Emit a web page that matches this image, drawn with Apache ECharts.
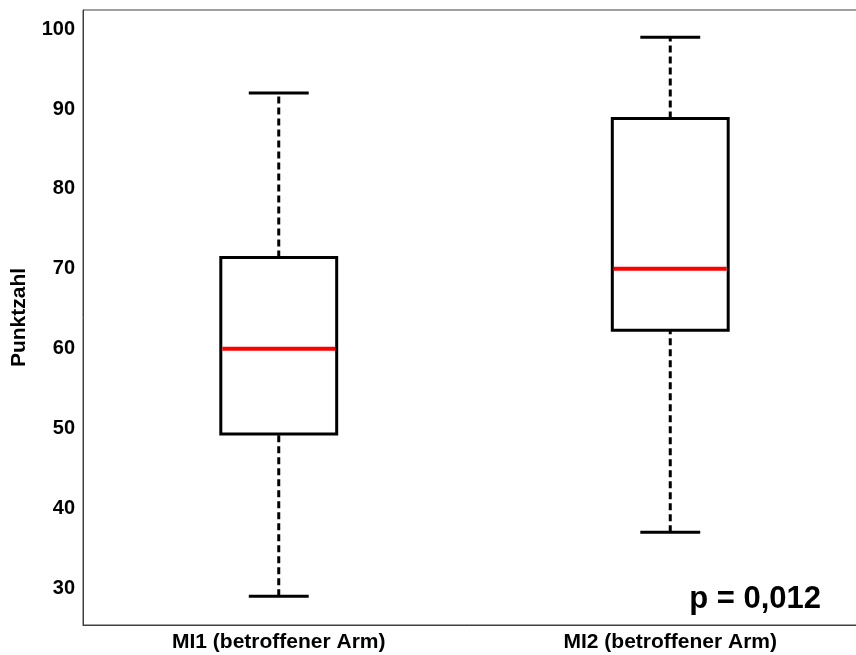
<!DOCTYPE html>
<html>
<head>
<meta charset="utf-8">
<style>html,body{margin:0;padding:0;background:#fff;}#chart{width:856px;height:655px;}</style>
<script src="https://cdn.jsdelivr.net/npm/echarts@6/dist/echarts.min.js"></script>
</head>
<body>
<div id="chart"></div>
<script>
var categories = ['MI1 (betroffener Arm)', 'MI2 (betroffener Arm)'];
var lowWhisker = [29, 37];
var q1 = [49.3, 62.3];
var median = [60, 70];
var q3 = [71.4, 88.8];
var highWhisker = [92, 99];
var pText = 'p = 0,012';

var boxData = categories.map(function (c, i) {
  return [i, lowWhisker[i], q1[i], median[i], q3[i], highWhisker[i]];
});

var FONT = "'Liberation Sans', Arial, Helvetica, sans-serif";
var chart = echarts.init(document.getElementById('chart'));
chart.setOption({
  animation: false,
  backgroundColor: '#fff',
  grid: { left: 83, width: 783, top: 10, height: 615, outerBoundsMode: 'none', containLabel: false, show: true, borderColor: '#404040', borderWidth: 1 },
  xAxis: {
    type: 'category',
    data: categories,
    boundaryGap: true,
    axisLine: { lineStyle: { color: '#404040', width: 1 } },
    axisTick: { inside: true, length: 6, alignWithLabel: true, lineStyle: { color: '#404040' } },
    axisLabel: { margin: 7, color: '#000', fontSize: 21, fontWeight: 'bold', fontFamily: FONT },
    splitLine: { show: false }
  },
  yAxis: {
    type: 'value',
    min: 25.4,
    max: 102.4,
    splitNumber: 8,
    name: 'Punktzahl',
    nameLocation: 'middle',
    nameRotate: 90,
    nameGap: 53,
    nameTextStyle: { color: '#000', fontSize: 21, fontWeight: 'bold', fontFamily: FONT },
    axisLine: { show: true, lineStyle: { color: '#404040', width: 1 } },
    axisTick: { inside: true, length: 7, lineStyle: { color: '#404040' } },
    axisLabel: { margin: 8, color: '#000', fontSize: 20, fontWeight: 'bold', fontFamily: FONT, showMinLabel: false, showMaxLabel: false },
    splitLine: { show: false }
  },
  graphic: [{
    type: 'text',
    right: 35,
    top: 584,
    style: { text: pText, font: 'bold 31px ' + FONT, fill: '#000' }
  }],
  series: [{
    type: 'custom',
    data: boxData,
    encode: { x: 0, y: [1, 2, 3, 4, 5] },
    renderItem: function (params, api) {
      var idx = api.value(0);
      var pLow = api.coord([idx, api.value(1)]);
      var pQ1 = api.coord([idx, api.value(2)]);
      var pMed = api.coord([idx, api.value(3)]);
      var pQ3 = api.coord([idx, api.value(4)]);
      var pHigh = api.coord([idx, api.value(5)]);
      var band = api.size([1, 0])[0];
      var bw = band * 0.296, cw = band * 0.153;
      var cx = pLow[0];
      var dash = { stroke: '#000', lineWidth: 3, lineDash: [7, 4] };
      var solid = { stroke: '#000', lineWidth: 3, fill: null };
      return {
        type: 'group',
        children: [
          { type: 'line', shape: { x1: cx, y1: pLow[1], x2: cx, y2: pQ1[1] }, style: dash },
          { type: 'line', shape: { x1: cx, y1: pQ3[1], x2: cx, y2: pHigh[1] }, style: dash },
          { type: 'line', shape: { x1: cx - cw / 2, y1: pLow[1], x2: cx + cw / 2, y2: pLow[1] }, style: solid },
          { type: 'line', shape: { x1: cx - cw / 2, y1: pHigh[1], x2: cx + cw / 2, y2: pHigh[1] }, style: solid },
          { type: 'rect', shape: { x: cx - bw / 2, y: pQ3[1], width: bw, height: pQ1[1] - pQ3[1] }, style: { stroke: '#000', lineWidth: 3, fill: '#fff' } },
          { type: 'line', shape: { x1: cx - bw / 2 + 1.5, y1: pMed[1], x2: cx + bw / 2 - 1.5, y2: pMed[1] }, style: { stroke: '#ff0000', lineWidth: 4 } }
        ]
      };
    }
  }]
});
</script>
</body>
</html>
